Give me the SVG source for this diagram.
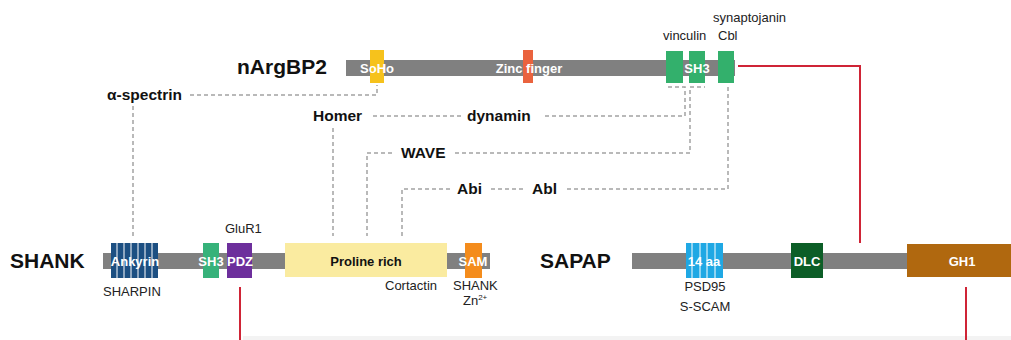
<svg xmlns="http://www.w3.org/2000/svg" width="1011" height="340" viewBox="0 0 1011 340">
<style>
text{font-family:"Liberation Sans",Arial,sans-serif}
.title{font-size:21px;font-weight:bold;fill:#111}
.lab{font-size:15.5px;font-weight:bold;fill:#111}
.sm{font-size:13px;fill:#222}
.box{font-size:13px;font-weight:bold;fill:#fff;text-anchor:middle}
.bar{fill:#808080}
.dash{fill:none;stroke:#a3a3a3;stroke-width:1.5;stroke-dasharray:4 3}
.red{fill:none;stroke:#cf2436;stroke-width:2}
.stripe{stroke:#fff;stroke-width:1}
</style>
<rect x="243" y="336" width="768" height="4" fill="#f3f3f3"/>
<g id="connectors">
  <path class="dash" d="M190,95 H377 V85"/>
  <path class="dash" d="M133,106 V236"/>
  <path class="dash" d="M373,116 H462"/>
  <path class="dash" d="M545,116 H685 V87 H667"/>
  <path class="dash" d="M333,128 V236"/>
  <path class="dash" d="M392,153 H367 V236"/>
  <path class="dash" d="M455,153 H690 V87 H705"/>
  <path class="dash" d="M450,189 H402 V236"/>
  <path class="dash" d="M491,189 H525"/>
  <path class="dash" d="M567,189 H728 V87"/>
  <path class="red" d="M738,66 H860 V243"/>
  <path class="red" d="M240,287 V340"/>
  <path class="red" d="M966,287 V340"/>
</g>
<g id="nArgBP2">
  <text class="title" x="237" y="74">nArgBP2</text>
  <rect class="bar" x="346" y="60" width="389" height="16"/>
  <rect x="370" y="50" width="14" height="33" fill="#f6c21c"/>
  <rect x="523" y="50" width="10" height="33" fill="#ea633e"/>
  <rect x="666" y="51" width="17" height="32" fill="#33b06c"/>
  <rect x="689" y="51" width="16" height="32" fill="#33b06c"/>
  <rect x="718" y="51" width="16" height="32" fill="#33b06c"/>
  <text class="box" x="377" y="73">SoHo</text>
  <text class="box" x="529" y="73">Zinc finger</text>
  <text class="box" x="697" y="73">SH3</text>
  <text class="sm" x="663" y="40">vinculin</text>
  <text class="sm" x="718" y="40">Cbl</text>
  <text class="sm" x="713" y="22">synaptojanin</text>
</g>
<g id="interactors">
  <text class="lab" x="107" y="100">α-spectrin</text>
  <text class="lab" x="313" y="121">Homer</text>
  <text class="lab" x="467" y="121">dynamin</text>
  <text class="lab" x="401" y="158">WAVE</text>
  <text class="lab" x="457" y="194">Abi</text>
  <text class="lab" x="532" y="194">Abl</text>
</g>
<g id="SHANK">
  <text class="title" x="10" y="268">SHANK</text>
  <rect class="bar" x="103" y="253" width="387" height="16"/>
  <rect x="111" y="243" width="47" height="35" fill="#1c4f82"/>
  <path class="stripe" d="M117,243V278M124,243V278M131,243V278M138,243V278M145,243V278M152,243V278"/>
  <rect x="203" y="243" width="16" height="35" fill="#36b27a"/>
  <rect x="227" y="243" width="25" height="35" fill="#6d2f9c"/>
  <rect x="285" y="243" width="162" height="34" fill="#faeba0"/>
  <rect x="465" y="243" width="17" height="35" fill="#f48c1c"/>
  <text class="box" x="135" y="266">Ankyrin</text>
  <text class="box" x="211" y="266">SH3</text>
  <text class="box" x="240" y="266">PDZ</text>
  <text class="box" x="366" y="266" style="fill:#111">Proline rich</text>
  <text class="box" x="473" y="266">SAM</text>
  <text class="sm" x="225" y="233">GluR1</text>
  <text class="sm" x="103" y="296">SHARPIN</text>
  <text class="sm" x="385" y="290">Cortactin</text>
  <text class="sm" x="453" y="290">SHANK</text>
  <text class="sm" x="463" y="305">Zn<tspan font-size="8" dy="-5">2+</tspan></text>
</g>
<g id="SAPAP">
  <text class="title" x="540" y="268">SAPAP</text>
  <rect class="bar" x="632" y="253" width="280" height="16"/>
  <rect x="686" y="243" width="37" height="35" fill="#1fa8e4"/>
  <path class="stripe" d="M692,243V278M700,243V278M707,243V278M715,243V278"/>
  <rect x="791" y="243" width="32" height="35" fill="#0c5e27"/>
  <rect x="907" y="244" width="104" height="33" fill="#b0680f"/>
  <text class="box" x="704" y="266">14 aa</text>
  <text class="box" x="807" y="266">DLC</text>
  <text class="box" x="962" y="266">GH1</text>
  <text class="sm" x="705" y="291" text-anchor="middle">PSD95</text>
  <text class="sm" x="705" y="311" text-anchor="middle">S-SCAM</text>
</g>
</svg>
